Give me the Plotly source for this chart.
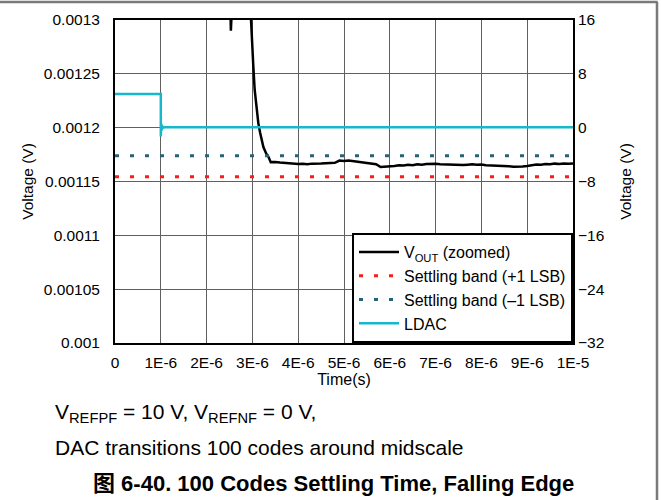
import plotly.graph_objects as go

# time in microseconds (axis labelled in seconds)
t_vout = [0, 2.50, 2.52, 2.53, 2.55, 2.57, 2.97, 3.00, 3.02, 3.05, 3.09, 3.13, 3.17,
          3.21, 3.24, 3.30, 3.35, 3.40,
          3.5, 3.6, 3.7, 3.8, 3.9, 4.0, 4.1, 4.2, 4.3, 4.4, 4.5, 4.6, 4.7, 4.8, 4.9,
          5.0, 5.1, 5.2, 5.3, 5.4, 5.5, 5.6, 5.7, 5.8, 5.9, 6.0, 6.1, 6.2, 6.3, 6.4,
          6.5, 6.6, 6.7, 6.8, 6.9, 7.0, 7.1, 7.2, 7.3, 7.4, 7.5, 7.6, 7.7, 7.8, 7.9,
          8.0, 8.1, 8.2, 8.3, 8.4, 8.5, 8.6, 8.7, 8.8, 8.9, 9.0, 9.1, 9.2, 9.3, 9.4,
          9.5, 9.6, 9.7, 9.8, 9.9, 10.0]
v_out = [0.00135, 0.00135, 0.00131, 0.00129, 0.00131, 0.00135, 0.00130, 0.00128,
         0.001257, 0.001235, 0.001216, 0.001204, 0.001195, 0.001188, 0.001182,
         0.001176, 0.001173, 0.001168,
         0.0011682, 0.0011676, 0.0011672, 0.0011668, 0.0011664, 0.0011662, 0.0011665,
         0.0011661, 0.0011666, 0.0011663, 0.0011667, 0.0011670, 0.0011668, 0.0011673,
         0.0011694, 0.0011690, 0.0011694, 0.0011688, 0.0011680, 0.0011676, 0.0011670,
         0.0011664, 0.0011660, 0.0011634, 0.0011636, 0.0011640, 0.0011645, 0.0011650,
         0.0011648, 0.0011655, 0.0011652, 0.0011660, 0.0011656, 0.0011662, 0.0011666,
         0.0011664, 0.0011660, 0.0011658, 0.0011662, 0.0011655, 0.0011658, 0.0011653,
         0.0011656, 0.0011660, 0.0011655, 0.0011658, 0.0011652, 0.0011650, 0.0011654,
         0.0011646, 0.0011648, 0.0011642, 0.0011638, 0.0011636, 0.0011640, 0.0011645,
         0.0011652, 0.0011658, 0.0011655, 0.0011662, 0.0011660, 0.0011666, 0.0011663,
         0.0011668, 0.0011664, 0.0011667]

t_band = [0, 10]
band_plus = [0.0011545, 0.0011545]
band_minus = [0.001174, 0.001174]

t_ldac = [0, 1.0, 1.0, 1.01, 1.02, 1.03, 1.05, 1.08, 10]
v_ldac = [5.0, 5.0, -1.3, 0.6, -0.4, 0.3, 0.0, 0.05, 0.05]

x_ticks = [0, 1, 2, 3, 4, 5, 6, 7, 8, 9, 10]
x_labels = ["0", "1E-6", "2E-6", "3E-6", "4E-6", "5E-6", "6E-6", "7E-6", "8E-6", "9E-6", "1E-5"]
y_ticks = [0.001, 0.00105, 0.0011, 0.00115, 0.0012, 0.00125, 0.0013]
y_labels = ["0.001", "0.00105", "0.0011", "0.00115", "0.0012", "0.00125", "0.0013"]

FONT = "Liberation Sans, Arial, Noto Sans CJK SC, sans-serif"

fig = go.Figure()

fig.add_trace(go.Scatter(
    x=t_vout, y=v_out, name="V<sub>OUT</sub> (zoomed)", mode="lines",
    line=dict(color="black", width=2.5)
))
fig.add_trace(go.Scatter(
    x=t_band, y=band_plus, name="Settling band (+1 LSB)", mode="lines",
    line=dict(color="#ff1a1a", width=3, dash="4px,11px")
))
fig.add_trace(go.Scatter(
    x=t_band, y=band_minus, name="Settling band (\u20131 LSB)", mode="lines",
    line=dict(color="#26637a", width=3, dash="4px,11px")
))
fig.add_trace(go.Scatter(
    x=t_ldac, y=v_ldac, name="LDAC", yaxis="y2", mode="lines",
    line=dict(color="#17b8cc", width=2.5)
))

grid = "#606060"
fig.update_layout(
    width=661, height=500,
    margin=dict(l=115, r=88, t=20, b=157),
    paper_bgcolor="white", plot_bgcolor="white",
    font=dict(family=FONT, size=15, color="black"),
    showlegend=True,
    legend=dict(
        x=1, y=0, xanchor="right", yanchor="bottom",
        bgcolor="white", bordercolor="black", borderwidth=2,
        font=dict(size=16), tracegroupgap=0, itemwidth=40
    ),
    xaxis=dict(
        range=[0, 10], tickvals=x_ticks, ticktext=x_labels,
        showgrid=True, gridcolor=grid, gridwidth=1,
        showline=True, linecolor="black", linewidth=2, mirror=True,
        ticks="", zeroline=False, ticklabelstandoff=4,
        tickfont=dict(size=15.5),
        title=dict(text="Time(s)", font=dict(size=16), standoff=3)
    ),
    yaxis=dict(
        range=[0.001, 0.0013], tickvals=y_ticks, ticktext=y_labels,
        showgrid=True, gridcolor=grid, gridwidth=1,
        showline=True, linecolor="black", linewidth=2, mirror=True,
        ticks="", zeroline=False, ticklabelstandoff=10,
        tickfont=dict(size=15.5),
        title=dict(text="Voltage (V)", font=dict(size=15.5), standoff=6)
    ),
    yaxis2=dict(
        range=[-32, 16], dtick=8, overlaying="y", side="right",
        showgrid=False, zeroline=False, ticks="", ticklabelstandoff=4,
        tickfont=dict(size=15.5),
        title=dict(text="Voltage (V)", font=dict(size=15.5), standoff=16)
    ),
    shapes=[
        dict(type="line", xref="paper", yref="paper", x0=-0.26, x1=1.185,
             y0=1.0557, y1=1.0557, line=dict(color="#7a7a7a", width=2.5)),
        dict(type="line", xref="paper", yref="paper", x0=1.1834, x1=1.1834,
             y0=1.0557, y1=-0.5, line=dict(color="#7a7a7a", width=2.5)),
    ],
    annotations=[
        dict(text="V<sub>REFPF</sub> = 10 V, V<sub>REFNF</sub> = 0 V,",
             xref="paper", yref="paper", x=-0.1354, y=-0.2167,
             xanchor="left", yanchor="middle", showarrow=False,
             font=dict(size=21)),
        dict(text="DAC transitions 100 codes around midscale",
             xref="paper", yref="paper", x=-0.1354, y=-0.322,
             xanchor="left", yanchor="middle", showarrow=False,
             font=dict(size=21)),
        dict(text="<b>\u56fe 6-40. 100 Codes Settling Time, Falling Edge</b>",
             xref="paper", yref="paper", x=0.478, y=-0.4365,
             xanchor="center", yanchor="middle", showarrow=False,
             font=dict(size=22)),
    ],
)

# drop the default body margin so the figure sits at the page corner
fig.write_html("out.html", config={"displayModeBar": False},
               post_script="document.body.style.margin='0';")
